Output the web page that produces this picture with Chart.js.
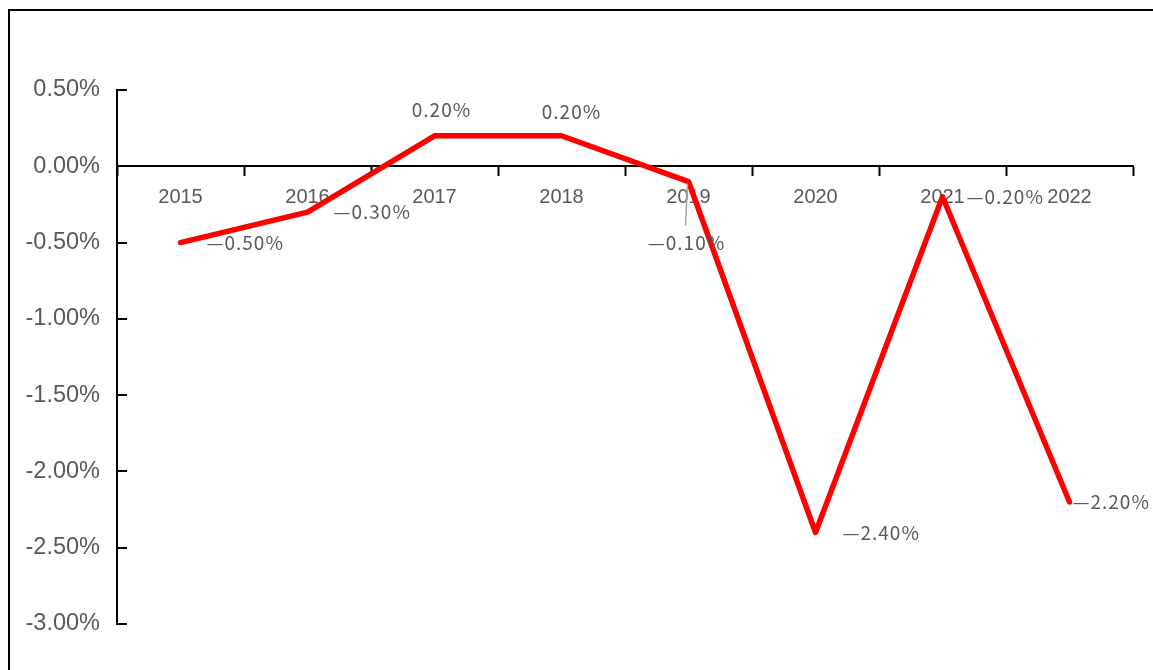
<!DOCTYPE html>
<html>
<head>
<meta charset="utf-8">
<script src="https://cdn.jsdelivr.net/npm/chart.js@4.4.0/dist/chart.umd.min.js"></script>
<style>
  html, body { margin: 0; padding: 0; background: #fff; }
  #wrap { width: 1153px; height: 670px; }
</style>
</head>
<body>
<div id="wrap"><canvas id="chart"></canvas></div>
<script>
var years = ['2015', '2016', '2017', '2018', '2019', '2020', '2021', '2022'];
var changes = [-0.5, -0.3, 0.2, 0.2, -0.1, -2.4, -0.2, -2.2];
var yTicks = [0.5, 0, -0.5, -1, -1.5, -2, -2.5, -3];

// where each data label sits relative to its point
var labelPlace = [
    { align: 'left', dx: 26, dy: 0 },
    { align: 'left', dx: 26, dy: 0 },
    { align: 'center', dx: 7, dy: -26 },
    { align: 'center', dx: 10, dy: -24 },
    { align: 'center', dx: -2, dy: 61, leader: true },
    { align: 'left', dx: 27, dy: 0 },
    { align: 'left', dx: 24, dy: 0 },
    { align: 'left', dx: 3, dy: 0 }
];

function fmtLabel(v) {
    var s = Math.abs(v).toFixed(2) + '%';
    return v < 0 ? '\u2014' + s : s;
}

var frameAndLabels = {
    id: 'frameAndLabels',
    afterDraw: function (chart) {
        var ctx = chart.ctx;
        var ys = chart.scales.y;
        ctx.save();
        // outer frame
        ctx.strokeStyle = '#000';
        ctx.lineWidth = 2;
        ctx.strokeRect(9, 10, 1200, 700);
        // inward y ticks
        ctx.beginPath();
        ys.ticks.forEach(function (t) {
            var py = Math.round(ys.getPixelForValue(t.value));
            ctx.moveTo(ys.right, py);
            ctx.lineTo(ys.right + 10, py);
        });
        ctx.stroke();
        // data labels
        var meta = chart.getDatasetMeta(0);
        ctx.font = '19px "Noto Sans CJK SC", sans-serif';
        ctx.letterSpacing = '1px';
        ctx.fillStyle = '#595959';
        ctx.textBaseline = 'middle';
        meta.data.forEach(function (pt, i) {
            var p = labelPlace[i];
            if (p.leader) {
                ctx.strokeStyle = '#a6a6a6';
                ctx.lineWidth = 1.5;
                ctx.beginPath();
                ctx.moveTo(pt.x - 1, pt.y + 2);
                ctx.lineTo(pt.x - 3, pt.y + 44);
                ctx.stroke();
            }
            ctx.textAlign = p.align;
            ctx.fillText(fmtLabel(changes[i]), pt.x + p.dx, pt.y + p.dy);
        });
        ctx.restore();
    }
};

new Chart(document.getElementById('chart'), {
    type: 'line',
    data: {
        labels: years,
        datasets: [{
            data: changes,
            borderColor: '#ff0000',
            borderWidth: 5.5,
            pointRadius: 0,
            tension: 0,
            borderCapStyle: 'round',
            borderJoinStyle: 'round'
        }]
    },
    options: {
        responsive: true,
        maintainAspectRatio: false,
        animation: false,
        layout: { padding: { top: 90, right: 20, bottom: 46, left: 0 } },
        plugins: {
            legend: { display: false },
            tooltip: { enabled: false }
        },
        scales: {
            x: {
                position: { y: 0 },
                offset: true,
                grid: {
                    offset: true,
                    drawOnChartArea: false,
                    color: '#000',
                    tickLength: 9,
                    tickWidth: 2
                },
                border: { color: '#000', width: 2 },
                ticks: {
                    color: '#595959',
                    font: { family: '"Liberation Sans", Arial, sans-serif', size: 20 },
                    padding: 10,
                    maxRotation: 0
                }
            },
            y: {
                min: -3,
                max: 0.5,
                afterBuildTicks: function (scale) {
                    scale.ticks = yTicks.map(function (v) { return { value: v }; });
                },
                afterFit: function (scale) { scale.width = 117; },
                grid: { drawOnChartArea: false, drawTicks: false },
                border: { color: '#000', width: 2 },
                ticks: {
                    color: '#595959',
                    font: { family: '"Liberation Sans", Arial, sans-serif', size: 23.5 },
                    padding: 17,
                    callback: function (v) { return v.toFixed(2) + '%'; }
                }
            }
        }
    },
    plugins: [frameAndLabels]
});
</script>
</body>
</html>
